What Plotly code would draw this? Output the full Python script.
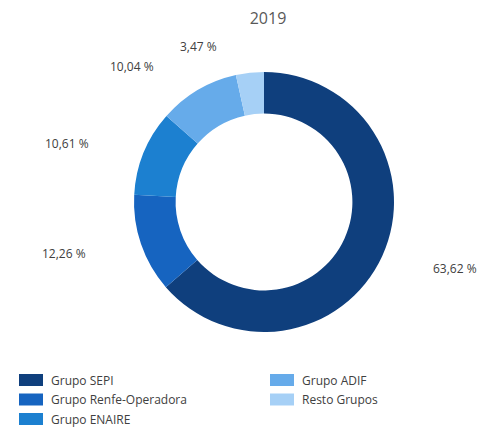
import math
import plotly.graph_objects as go

# ---- data ----
title_text = "2019"
categories = ["Grupo SEPI", "Grupo Renfe-Operadora", "Grupo ENAIRE", "Grupo ADIF", "Resto Grupos"]
shares = [63.62, 12.26, 10.61, 10.04, 3.47]

# ---- style ----
colors = ["#0f3f7d", "#1664c0", "#1c80d0", "#66abea", "#a6d0f6"]
W, H = 483, 428
CX, CY, R = 264, 202, 130
HOLE = 0.68
FONT = "Open Sans"
TXT = "#404040"
# label placement: ellipse around the ring + small manual nudges (px)
LRX, LRY = 205, 150
label_nudge = [(4, 4), (-6, 3), (-7, -2), (-28, -6), (-43, -6)]
# legend layout (px)
leg_cols_x = [19, 270]
leg_rows_per_col = 3
leg_y0, leg_dy = 380, 19.5
icon_w, icon_h = 24, 12

fig = go.Figure(go.Pie(
    labels=categories,
    values=shares,
    sort=False,
    direction="clockwise",
    rotation=0,
    hole=HOLE,
    marker=dict(colors=colors, line=dict(width=0)),
    textinfo="none",
    hoverinfo="label+percent",
    showlegend=False,
    domain=dict(x=[(CX - R) / W, (CX + R) / W], y=[(H - CY - R) / H, (H - CY + R) / H]),
))

def px(x):
    return x / W

def py(y):
    return 1 - y / H

annotations = []
total = sum(shares)
cum = 0.0
for i, (v, (dx, dy)) in enumerate(zip(shares, label_nudge)):
    mid = (cum + v / 2) / total * 2 * math.pi
    cum += v
    lx = CX + LRX * math.sin(mid) + dx
    ly = CY - LRY * math.cos(mid) + dy
    annotations.append(dict(
        x=px(lx), y=py(ly), xref="paper", yref="paper",
        text=f"{v:.2f}".replace(".", ",") + " %",
        showarrow=False, xanchor="center", yanchor="middle",
        font=dict(family=FONT, size=12, color=TXT),
    ))

shapes = []
for i, (name, c) in enumerate(zip(categories, colors)):
    col = i // leg_rows_per_col
    row = i % leg_rows_per_col
    x0 = leg_cols_x[col]
    yc = leg_y0 + row * leg_dy
    shapes.append(dict(
        type="rect", xref="paper", yref="paper",
        x0=px(x0), x1=px(x0 + icon_w), y0=py(yc + icon_h / 2), y1=py(yc - icon_h / 2),
        fillcolor=c, line=dict(width=0),
    ))
    annotations.append(dict(
        x=px(x0 + icon_w + 6), y=py(yc), xref="paper", yref="paper",
        text=name, showarrow=False, xanchor="left", yanchor="middle",
        font=dict(family=FONT, size=12, color=TXT),
    ))

fig.update_layout(
    width=W, height=H,
    margin=dict(l=0, r=0, t=0, b=0),
    paper_bgcolor="white", plot_bgcolor="white",
    title=dict(text=title_text, x=px(268), y=py(18), xanchor="center", yanchor="middle",
               font=dict(family=FONT, size=16, color="#595959")),
    annotations=annotations,
    shapes=shapes,
)

fig.write_html(
    "out.html",
    config={"displayModeBar": False},
    post_script="document.body.style.margin='0';document.body.style.overflow='hidden';",
)
